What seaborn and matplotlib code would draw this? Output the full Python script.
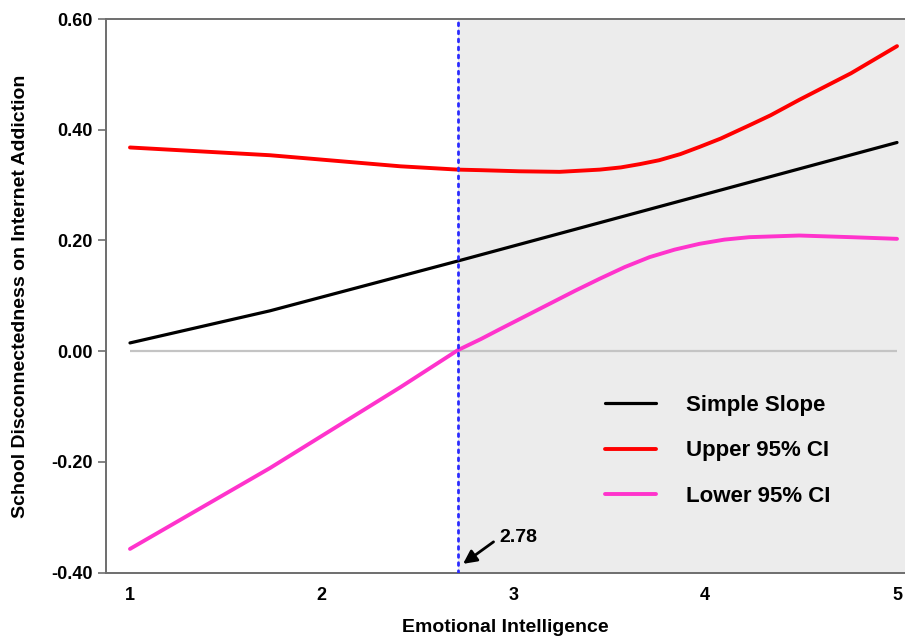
import matplotlib
matplotlib.use("Agg")
import matplotlib.pyplot as plt
import seaborn as sns
import numpy as np

# ---- data ----
x_slope = [1.00, 1.73, 2.71, 5.00]
y_slope = [0.015, 0.073, 0.163, 0.377]

x_upper = [1.00, 1.73, 2.41, 2.71, 2.83, 3.03, 3.24, 3.45, 3.56, 3.66, 3.76,
           3.87, 3.97, 4.08, 4.18, 4.23, 4.34, 4.49, 4.76, 5.00]
y_upper = [0.368, 0.354, 0.334, 0.328, 0.327, 0.325, 0.324, 0.328, 0.332, 0.338, 0.345,
           0.356, 0.369, 0.384, 0.400, 0.408, 0.426, 0.454, 0.502, 0.551]

x_lower = [1.00, 1.73, 2.41, 2.71, 2.83, 2.93, 3.06, 3.19, 3.32, 3.45, 3.58,
           3.71, 3.84, 3.97, 4.10, 4.23, 4.49, 4.76, 5.00]
y_lower = [-0.357, -0.211, -0.065, 0.002, 0.022, 0.040, 0.063, 0.086, 0.109, 0.131, 0.152,
           0.170, 0.1835, 0.194, 0.2016, 0.206, 0.209, 0.206, 0.203]

series_names = ["Simple Slope", "Upper 95% CI", "Lower 95% CI"]
jn_x = 2.71          # position of the Johnson-Neyman line as drawn
jn_label = "2.78"
x_ticks = [1, 2, 3, 4, 5]
y_ticks = [-0.40, -0.20, 0.00, 0.20, 0.40, 0.60]
x_title = "Emotional Intelligence"
y_title = "School Disconnectedness on Internet Addiction"

# ---- style ----
sns.set_style("white")
plt.rcParams["font.family"] = ["Liberation Sans", "DejaVu Sans"]
plt.rcParams["font.weight"] = "bold"
plt.rcParams["text.color"] = "black"
plt.rcParams["axes.labelcolor"] = "black"

fig = plt.figure(figsize=(9.05, 6.36), dpi=100)
ax = fig.add_axes([0.1171, 0.0995, 0.8829, 0.8706])

ax.set_xlim(0.8748, 5.0417)
ax.set_ylim(-0.40, 0.60)

# shaded region of significance
ax.axvspan(jn_x, ax.get_xlim()[1], color="#ECECEC", zorder=0, lw=0)

# zero reference line
ax.hlines(0, min(x_slope), max(x_slope), color="#C4C4C4", lw=1.6, zorder=1)

sns.lineplot(x=x_slope, y=y_slope, ax=ax, color="black", lw=2.3,
             label=series_names[0], sort=False, zorder=3)
sns.lineplot(x=x_upper, y=y_upper, ax=ax, color="#FF0000", lw=2.8,
             label=series_names[1], sort=False, zorder=3)
sns.lineplot(x=x_lower, y=y_lower, ax=ax, color="#FF33CC", lw=2.8,
             label=series_names[2], sort=False, zorder=3)

# Johnson-Neyman line
ax.axvline(jn_x, color="#2B2BFF", lw=2.0, linestyle=(0, (1, 1.9)),
           dash_capstyle="round", zorder=4)

ax.annotate(jn_label, xy=(jn_x + 0.027, -0.384), xycoords="data",
            xytext=(36, 26), textcoords="offset pixels",
            ha="left", va="center", fontsize=14, fontweight="bold", color="black",
            arrowprops=dict(arrowstyle="-|>", color="black", lw=2.0,
                            mutation_scale=20, shrinkA=2, shrinkB=0,
                            relpos=(0, 0.5)),
            zorder=5)

# axes cosmetics
for side in ["left", "bottom", "top"]:
    ax.spines[side].set_color("#6E6E6E")
    ax.spines[side].set_linewidth(1.4)
ax.spines["right"].set_visible(False)

ax.set_xticks(x_ticks)
ax.set_xticklabels([str(t) for t in x_ticks], fontsize=13, fontweight="bold")
ax.set_yticks(y_ticks)
ax.set_yticklabels([f"{v:.2f}" for v in y_ticks], fontsize=13, fontweight="bold")
ax.tick_params(axis="x", length=0, pad=10, labelcolor="black")
ax.tick_params(axis="y", length=6, width=1.2, color="#6E6E6E", pad=3.5, left=True,
               labelcolor="black")

ax.set_xlabel(x_title, fontsize=14, fontweight="bold", labelpad=11, color="black")
ax.set_ylabel(y_title, fontsize=14, fontweight="bold", labelpad=16, color="black")

leg = ax.legend(loc="upper left", bbox_to_anchor=(0.6245, 0.321),
                frameon=False, fontsize=16, handlelength=2.3,
                handletextpad=1.36, labelspacing=1.1,
                borderpad=0, borderaxespad=0)
for t in leg.get_texts():
    t.set_fontweight("bold")
    t.set_color("black")

fig.savefig("out.png", dpi=100)
